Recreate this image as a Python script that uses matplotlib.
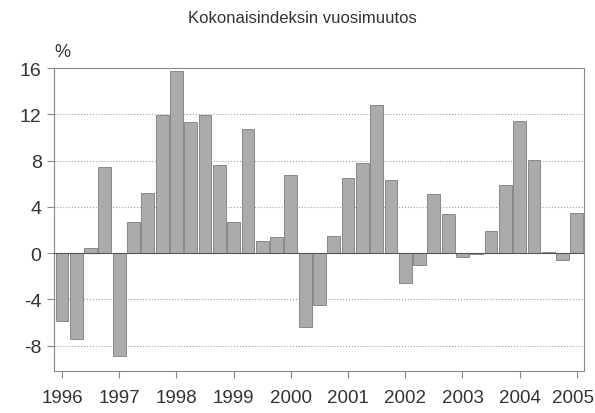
import numpy as np
import matplotlib.pyplot as plt
from matplotlib.transforms import ScaledTranslation

plt.rcParams['font.family'] = ['Liberation Sans', 'DejaVu Sans']

years = ["1996", "1997", "1998", "1999", "2000", "2001", "2002", "2003", "2004", "2005"]

# quarterly year-on-year change, %
values = [-5.86, -7.45, 0.4, 7.42,
          -8.9, 2.66, 5.15, 11.93,
          15.75, 11.3, 11.93, 7.64,
          2.66, 10.73, 1.0, 1.35,
          6.78, -6.37, -4.49, 1.46,
          6.5, 7.76, 12.8, 6.35,
          -2.63, -1.0, 5.12, 3.4,
          -0.31, -0.1, 1.92, 5.92,
          11.42, 8.04, 0.12, -0.6,
          3.43]

x = np.arange(len(values))

fig = plt.figure(figsize=(5.95, 4.14), dpi=100)
ax = fig.add_axes([0.0908, 0.1014, 0.8907, 0.7319])

ax.bar(x, values, width=0.9, color="#ababab", edgecolor="#7c7c7c", linewidth=0.6, zorder=3)

ax.set_xlim(-0.56, 36.5)
ax.set_ylim(-10.2, 16)
ax.set_yticks([-8, -4, 0, 4, 8, 12, 16])
ax.set_yticklabels(["-8", "-4", "0", "4", "8", "12", "16"])
ax.set_xticks(x[::4])
ax.set_xticklabels(years)

for v in [-8, -4, 4, 8, 12]:
    ax.axhline(v, color="#a0a0a0", linestyle=":", linewidth=0.8, zorder=1)
ax.axhline(0, color="#555555", linewidth=0.8, zorder=4)

for s in ax.spines.values():
    s.set_color("#888888")
    s.set_linewidth(0.8)

ax.tick_params(axis="both", colors="#888888", labelcolor="#333333", length=5, width=0.8)
ax.tick_params(axis="x", labelsize=13.5, pad=8)
ax.tick_params(axis="y", labelsize=14, pad=4)

# keep the last year label inside the figure
last = ax.get_xticklabels()[-1]
last.set_transform(last.get_transform() + ScaledTranslation(-4 / 100, 0, fig.dpi_scale_trans))

fig.text(0.509, 0.955, "Kokonaisindeksin vuosimuutos", ha="center", va="center", fontsize=12, color="#333333")
fig.text(0.104, 0.873, "%", ha="center", va="center", fontsize=13, color="#333333")

fig.savefig("out.png", dpi=100)
